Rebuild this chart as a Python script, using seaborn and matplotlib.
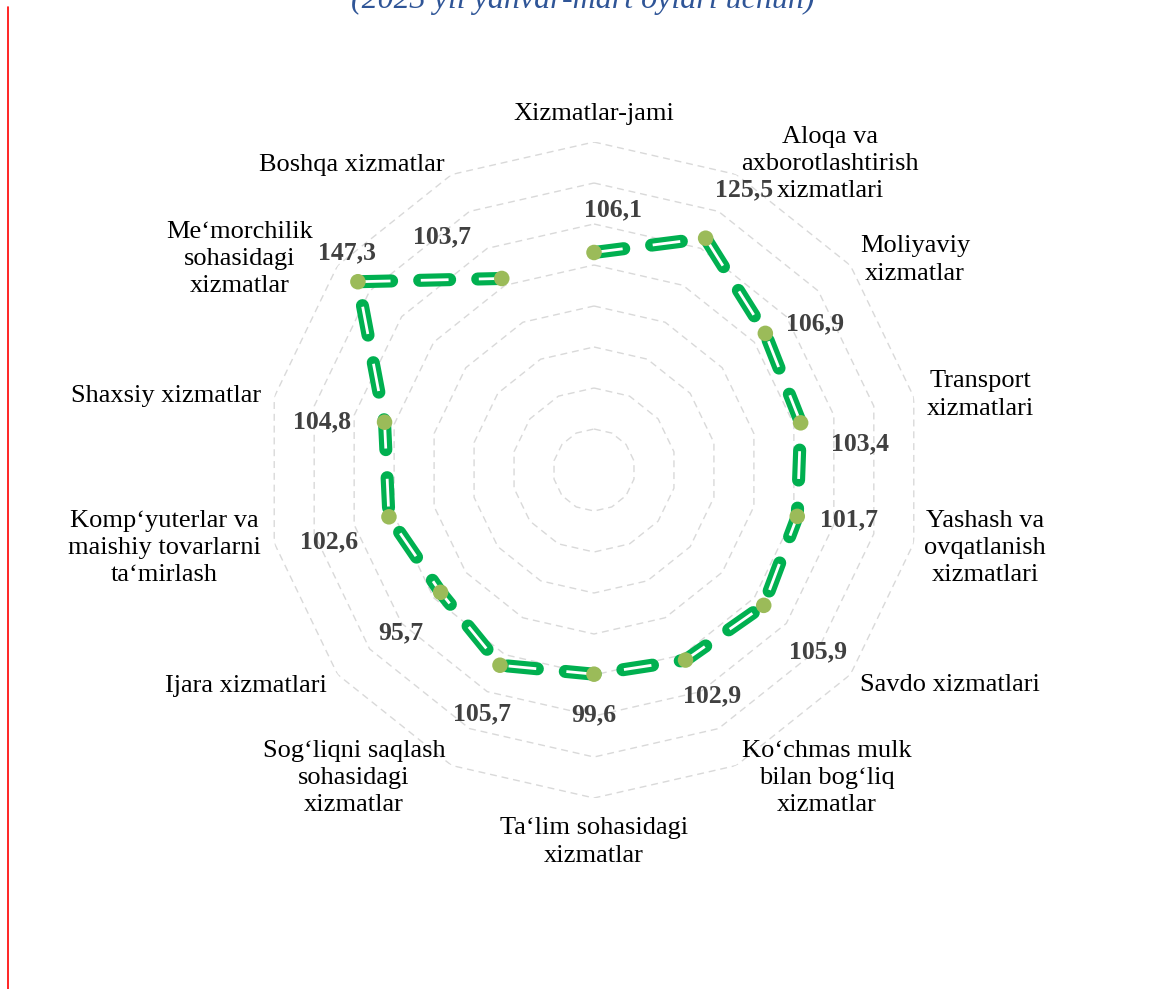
import numpy as np
import pandas as pd
import matplotlib.pyplot as plt
import seaborn as sns
from matplotlib.lines import Line2D

# ma'lumotlar
categories = [
    "Xizmatlar-jami",
    "Aloqa va\naxborotlashtirish\nxizmatlari",
    "Moliyaviy\nxizmatlar",
    "Transport\nxizmatlari",
    "Yashash va\novqatlanish\nxizmatlari",
    "Savdo xizmatlari",
    "Ko‘chmas mulk\nbilan bog‘liq\nxizmatlar",
    "Ta‘lim sohasidagi\nxizmatlar",
    "Sog‘liqni saqlash\nsohasidagi\nxizmatlar",
    "Ijara xizmatlari",
    "Komp‘yuterlar va\nmaishiy tovarlarni\nta‘mirlash",
    "Shaxsiy xizmatlar",
    "Me‘morchilik\nsohasidagi\nxizmatlar",
    "Boshqa xizmatlar",
]
values = [106.1, 125.5, 106.9, 103.4, 101.7, 105.9, 102.9, 99.6, 105.7, 95.7, 102.6, 104.8, 147.3, 103.7]
grid_levels = [20, 40, 60, 80, 100, 120, 140, 160]

# joylashuv (piksel)
W, H = 1149, 989
label_pos = [(594, 114), (830, 164), (915, 260), (980, 395), (985, 548), (950, 685),
             (827, 778), (594, 842), (354, 778), (246, 686), (164, 548), (166, 396),
             (240, 259), (352, 165)]
value_offsets = [(19, 43), (38, 48), (50, 10), (59, -21), (52, -3), (54, -46), (27, -36),
                 (0, -41), (-18, -49), (-40, -40), (-60, -25), (-62, 0), (-11, 29), (-60, 42)]

sns.set_style("white")
plt.rcParams['font.family'] = ['Liberation Serif', 'DejaVu Serif']

n = len(values)
theta = np.arange(n) * 2 * np.pi / n
df = pd.DataFrame({"theta": np.append(theta, theta[0]), "value": values + values[:1]})

fig = plt.figure(figsize=(W / 100, H / 100), dpi=100)
cx, cy, R = 594, 470, 328
ax = fig.add_axes([(cx - R) / W, (H - cy - R) / H, 2 * R / W, 2 * R / H], projection='polar')
ax.set_theta_offset(np.pi / 2)
ax.set_theta_direction(-1)
ax.set_ylim(0, 160)
ax.set_xticks([])
ax.set_yticks([])
ax.grid(False)
ax.spines['polar'].set_visible(False)

# ko'pburchak to'r
for lv in grid_levels:
    ax.plot(df["theta"], [lv] * len(df), color='#D9D9D9', lw=1.0, linestyle=(0, (5, 3.5)), zorder=1)

# yashil chiziq (qo'sh chiziq effekti)
lw_g = 9.4
on_g, off_g = 21.6, 20.2
sns.lineplot(data=df, x="theta", y="value", sort=False, ax=ax, color='#00B050', lw=lw_g,
             linestyle=(0, (on_g / lw_g, off_g / lw_g)), dash_capstyle='round', zorder=3)
lw_w = 2.0
period = on_g + off_g
ax.plot(df["theta"], df["value"], color='white', lw=lw_w,
        linestyle=((period - 0.8) / lw_w, (20 / lw_w, (period - 20) / lw_w)),
        dash_capstyle='butt', zorder=4)

sns.scatterplot(data=df.iloc[:-1], x="theta", y="value", ax=ax, color='#9BBB59', s=125,
                edgecolor='none', zorder=5)
ax.set_xlabel("")
ax.set_ylabel("")

for t, v, (dx, dy) in zip(theta, values, value_offsets):
    ax.annotate(f"{v:.1f}".replace('.', ','), xy=(t, v), xytext=(dx * 0.72, dy * 0.72),
                textcoords='offset points', ha='center', va='center', fontsize=18.5,
                fontweight='bold', color='#404040', zorder=6)

for lab, (px, py) in zip(categories, label_pos):
    fig.text(px / W, 1 - py / H, lab, ha='center', va='center', fontsize=19,
             color='black', linespacing=1.3)

fig.text(583 / W, 1 - 8 / H, "(2023 yil yanvar-mart oylari uchun)", ha='center',
         va='baseline', fontsize=23, style='italic', color='#2F5597')

fig.add_artist(Line2D([8 / W, 8 / W], [0, 1 - 7 / H], color='red', lw=1.2,
                      transform=fig.transFigure))

fig.savefig("out.png", dpi=100)
